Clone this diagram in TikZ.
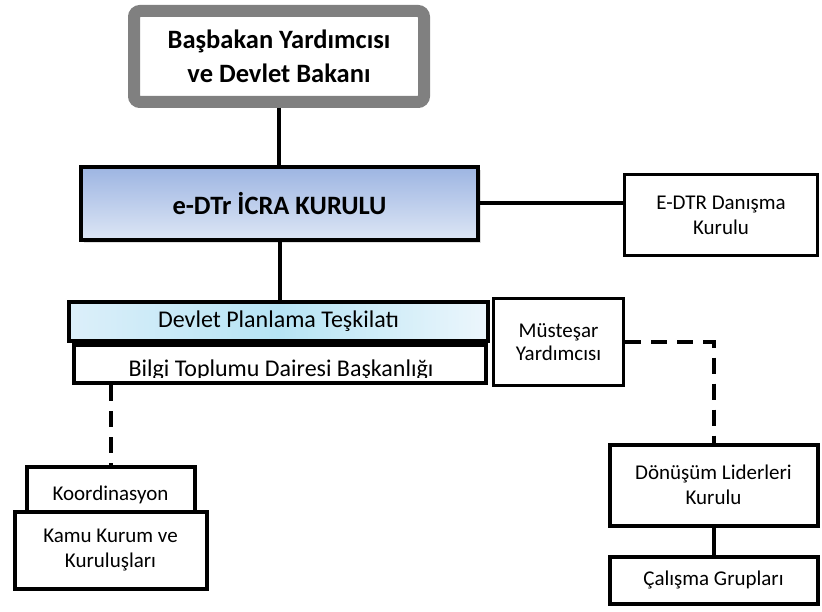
\documentclass[tikz,border=0pt]{standalone}
\usepackage{fontspec}
\setmainfont{Carlito}
\usetikzlibrary{shadows,calc}
\definecolor{edtrtop}{RGB}{157,181,226}
\definecolor{edtrbot}{RGB}{221,230,245}
\definecolor{dptside}{RGB}{220,239,250}
\definecolor{dptmid}{RGB}{182,228,244}
\definecolor{dptright}{RGB}{236,246,252}
\definecolor{topgray}{RGB}{128,128,128}
\tikzset{
  box/.style={draw=black, line width=3pt, fill=white, rectangle, inner sep=0pt, align=center, font=\fontsize{21}{25}\selectfont},
  conn/.style={line width=4pt, black},
  dconn/.style={line width=4pt, black, dash pattern=on 16pt off 10pt},
}
\begin{document}
\begin{tikzpicture}[x=1pt,y=-1pt]
\useasboundingbox (0,0) rectangle (822,612);
% top box
\node[draw=topgray, line width=12pt, rounded corners=6pt, fill=white, minimum width=290pt, minimum height=91pt, inner sep=0pt, align=center, font=\bfseries\fontsize{26.5}{34}\selectfont] (top) at (279,56.5) {Başbakan Yardımcısı\\ve Devlet Bakanı};
% e-DTr
\node[draw=black, line width=4pt, top color=edtrtop, bottom color=edtrbot, minimum width=397pt, minimum height=73pt, inner sep=0pt, font=\bfseries\fontsize{26.5}{30}\selectfont, drop shadow={opacity=0.25, shadow xshift=3pt, shadow yshift=-3pt}] (edtr) at (279.5,203.5) {e-DTr İCRA KURULU};
% danisma
\node[box, minimum width=193pt, minimum height=81pt] (danisma) at (721,215) {E-DTR Danışma\\Kurulu};
% bilgi (under dpt)
\node[box, line width=4pt, minimum width=412pt, minimum height=38pt] (bilgi) at (280,364) {};
\begin{scope}
\clip (74,345) rectangle (486,377.5);
\node[font=\fontsize{24}{28}\selectfont, anchor=base] (bilgitext) at (281,376) {Bilgi Toplumu Dairesi Başkanlığı};
\end{scope}
% dpt
\node[draw=black, line width=4pt, left color=dptside, right color=dptright, middle color=dptmid, minimum width=419pt, minimum height=39pt, inner sep=0pt, font=\fontsize{24}{28}\selectfont] (dpt) at (278.5,321.5) {Devlet Planlama Teşkilatı};
% mustesar
\node[box, minimum width=130pt, minimum height=87pt, font=\fontsize{21}{23.5}\selectfont] (mustesar) at (558.5,342) {Müsteşar\\Yardımcısı};
% koordinasyon and kamu
\node[box, line width=4pt, minimum width=168pt, minimum height=46pt] (koord) at (110.5,490) {};
\node[font=\fontsize{21}{25}\selectfont] (koordtext) at (110.5,495) {Koordinasyon};
\node[box, line width=4pt, minimum width=192pt, minimum height=77pt] (kamu) at (110.5,550) {Kamu Kurum ve\\Kuruluşları};
% donusum and calisma
\node[box, line width=4pt, minimum width=208pt, minimum height=81pt] (donusum) at (713.5,485) {Dönüşüm Liderleri\\Kurulu};
\node[box, line width=4pt, minimum width=208pt, minimum height=47pt] (calisma) at (713.5,580) {Çalışma Grupları};
% connectors
\draw[conn] (top.south) -- (top.south |- edtr.north);
\draw[conn] (edtr.east) -- (edtr.east -| danisma.west);
\draw[conn] (edtr.south) -- (edtr.south |- dpt.north);
\draw[dconn] (koord.north |- bilgi.south) -- (koord.north);
\draw[dconn] (mustesar.east) -- (donusum.north |- mustesar.east) -- (donusum.north);
\draw[conn] (donusum.south) -- (calisma.north);
\end{tikzpicture}
\end{document}
